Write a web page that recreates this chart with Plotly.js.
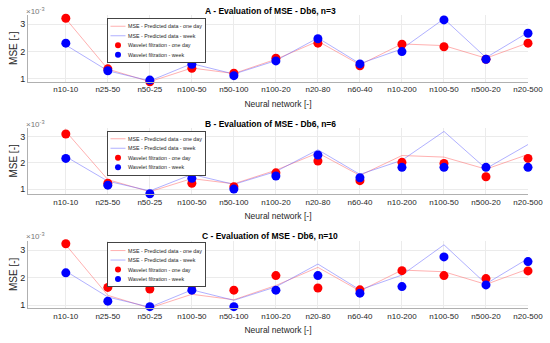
<!DOCTYPE html>
<html>
<head>
<meta charset="utf-8">
<script src="https://cdn.plot.ly/plotly-3.0.1.min.js"></script>
<style>html,body{margin:0;padding:0;background:#fff;}#chart{width:550px;height:343px;}</style>
</head>
<body>
<div id="chart"></div>
<script>
// Tick labels (categories) — note "n100-50" appears twice
var categories = ["n10-10","n25-50","n50-25","n100-50","n50-100","n100-20","n20-80","n60-40","n10-200","n100-50","n500-20","n20-500"];

// MSE - Predicted data (x10^-3), same baseline in every panel
var predictedDay  = [3.20, 1.36, 0.90, 1.40, 1.20, 1.72, 2.38, 1.52, 2.28, 2.22, 1.76, 2.32];
var predictedWeek = [2.24, 1.30, 0.93, 1.56, 1.18, 1.67, 2.50, 1.56, 2.10, 3.20, 1.78, 2.70];

// Wavelet filtration, panel A (n=3)
var waveletDayA  = [3.22, 1.37, 0.90, 1.39, 1.21, 1.76, 2.31, 1.48, 2.27, 2.18, 1.72, 2.31];
var waveletWeekA = [2.31, 1.30, 0.96, 1.54, 1.12, 1.66, 2.47, 1.55, 2.00, 3.16, 1.72, 2.67];
// Wavelet filtration, panel B (n=6)
var waveletDayB  = [3.10, 1.22, 0.78, 1.22, 1.09, 1.62, 2.07, 1.32, 2.02, 1.98, 1.47, 2.17];
var waveletWeekB = [2.17, 1.15, 0.82, 1.41, 1.00, 1.50, 2.30, 1.43, 1.83, 1.83, 1.83, 1.83];
// Wavelet filtration, panel C (n=10)
var waveletDayC  = [3.24, 1.65, 1.59, 1.73, 1.55, 2.08, 1.63, 1.56, 2.26, 2.08, 1.97, 2.25];
var waveletWeekC = [2.18, 1.15, 0.95, 1.55, 0.95, 1.55, 2.08, 1.44, 1.68, 2.76, 1.74, 2.59];

var panelTitles = ["A - Evaluation of MSE - Db6, n=3", "B - Evaluation of MSE - Db6, n=6", "C - Evaluation of MSE - Db6, n=10"];
var legendNames = ["MSE - Predicted data - one day", "MSE - Predicted data - week", "Wavelet filtration - one day", "Wavelet filtration - week"];

var xIdx = categories.map(function(_, i){ return i; });
var panels = [
  {day: waveletDayA, week: waveletWeekA},
  {day: waveletDayB, week: waveletWeekB},
  {day: waveletDayC, week: waveletWeekC}
];

var FONT = "Liberation Sans, Arial, sans-serif";
var TXT = "#262626";
var data = [];
panels.forEach(function(p, k){
  var s = k === 0 ? "" : String(k + 1);
  var leg = "legend" + s;
  data.push({x: xIdx, y: predictedDay, xaxis: "x" + s, yaxis: "y" + s, mode: "lines", name: legendNames[0], legend: leg,
    line: {color: "rgba(255,100,100,0.5)", width: 1}});
  data.push({x: xIdx, y: predictedWeek, xaxis: "x" + s, yaxis: "y" + s, mode: "lines", name: legendNames[1], legend: leg,
    line: {color: "rgba(100,100,255,0.5)", width: 1}});
  data.push({x: xIdx, y: p.day, xaxis: "x" + s, yaxis: "y" + s, mode: "markers", name: legendNames[2], legend: leg,
    marker: {color: "#ff0000", size: 9}, cliponaxis: false});
  data.push({x: xIdx, y: p.week, xaxis: "x" + s, yaxis: "y" + s, mode: "markers", name: legendNames[3], legend: leg,
    marker: {color: "#0000ff", size: 9}, cliponaxis: false});
});

var H = 343, W = 550;
function py(pix){ return (H - pix) / H; }
var domains = [
  {bottom: 81.7, top: 14.7, range: [0.9, 3.35], legTop: 18, titleY: 11},
  {bottom: 194.3, top: 127.5, range: [0.8, 3.35], legTop: 130.5, titleY: 124},
  {bottom: 308, top: 240.7, range: [0.9, 3.35], legTop: 242.3, titleY: 236}
];

var layout = {
  width: W, height: H,
  margin: {l: 0, r: 0, t: 0, b: 0},
  paper_bgcolor: "#fff", plot_bgcolor: "#fff",
  font: {family: FONT, color: TXT, size: 8},
  annotations: [],
  showlegend: true
};

domains.forEach(function(d, k){
  var s = k === 0 ? "" : String(k + 1);
  layout["xaxis" + s] = {
    domain: [28 / W, 528 / W], anchor: "y" + s,
    range: [-0.9, 11], tickvals: xIdx, ticktext: categories,
    showgrid: true, gridcolor: "#ebebeb", gridwidth: 1,
    showline: true, linecolor: "#b0b0b0", linewidth: 1, zeroline: false,
    ticks: "", tickfont: {size: 8, color: TXT, family: FONT},
    title: {text: "Neural network [-]", font: {size: 8.5, color: TXT, family: FONT}, standoff: 7}
  };
  layout["yaxis" + s] = {
    domain: [py(d.bottom), py(d.top)], anchor: "x" + s,
    range: d.range, tickvals: [1, 2, 3], ticktext: ["1", "2", "3"],
    showgrid: true, gridcolor: "#ebebeb", gridwidth: 1,
    showline: true, linecolor: "#b0b0b0", linewidth: 1, zeroline: false,
    ticks: "", tickfont: {size: 9, color: TXT, family: FONT},
    title: {text: "MSE [-]", font: {size: 10, color: TXT, family: FONT}, standoff: 0}
  };
  layout["legend" + s] = {
    x: 107 / W, xanchor: "left", y: py(d.legTop), yanchor: "top",
    bgcolor: "#ffffff", bordercolor: "#444", borderwidth: 2,
    font: {size: 10.6, color: TXT, family: FONT}, tracegroupgap: 0, itemwidth: 30,
    itemsizing: "constant"
  };
  layout.annotations.push({
    text: "<b>" + panelTitles[k] + "</b>", xref: "paper", yref: "paper",
    x: 270 / W, y: py(d.titleY), xanchor: "center", yanchor: "middle",
    showarrow: false, font: {size: 8.5, color: "#000", family: FONT}
  });
  layout.annotations.push({
    text: "×10<sup>-3</sup>", xref: "paper", yref: "paper",
    x: 24 / W, y: py(d.titleY), xanchor: "left", yanchor: "middle",
    showarrow: false, font: {size: 8, color: "#777", family: FONT}
  });
});

Plotly.newPlot("chart", data, layout, {displayModeBar: false, staticPlot: true}).then(function(gd){
  // shrink the legends to the compact size of the original figure
  var legs = gd.querySelectorAll("g.legend, g.legend2, g.legend3");
  legs.forEach(function(g){
    var t = g.getAttribute("transform") || "";
    if (t.indexOf("scale") < 0) g.setAttribute("transform", t + " scale(0.5)");
    g.querySelectorAll(".legendlines path").forEach(function(p){
      p.style.strokeWidth = "2px";
    });
  });
});
</script>
</body>
</html>
